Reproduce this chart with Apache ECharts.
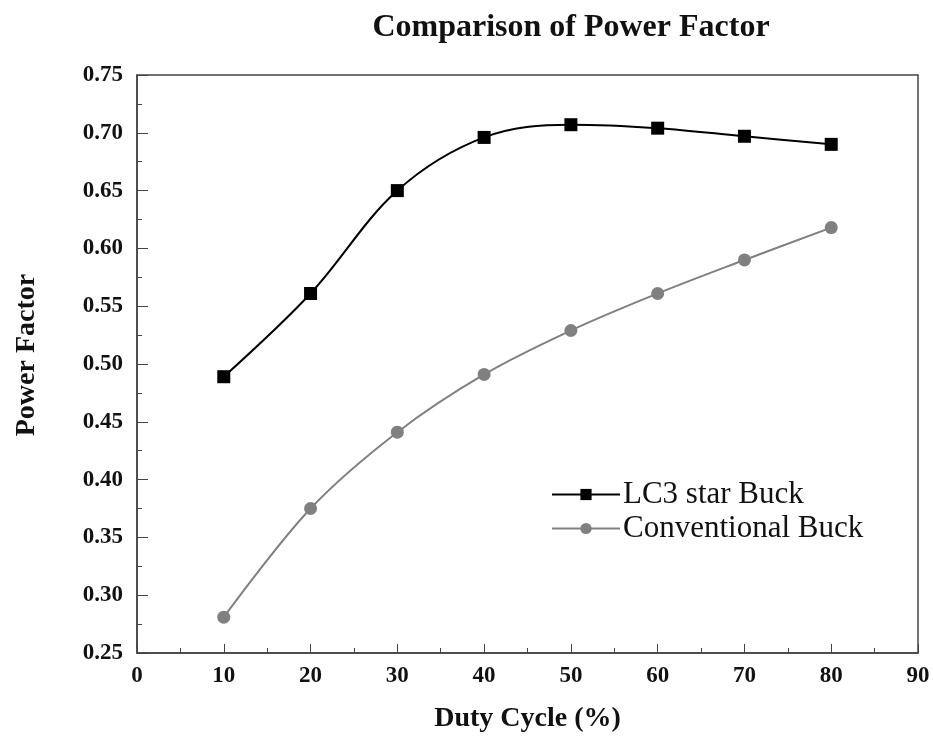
<!DOCTYPE html>
<html><head><meta charset="utf-8">
<script src="https://cdn.jsdelivr.net/npm/echarts@6/dist/echarts.min.js"></script>
<style>html,body{margin:0;padding:0;background:#fff}#c{width:933px;height:744px}</style>
</head><body><div id="c"></div>
<script>
const dutyCycle = [10, 20, 30, 40, 50, 60, 70, 80];
const lc3StarBuck = [0.489, 0.561, 0.650, 0.696, 0.707, 0.704, 0.697, 0.690];
const conventionalBuck = [0.281, 0.375, 0.441, 0.491, 0.529, 0.561, 0.590, 0.618];
const seriesNames = ['LC3 star Buck', 'Conventional Buck'];

const chart = echarts.init(document.getElementById('c'));
const font = '"Liberation Serif", "Times New Roman", serif';
chart.setOption({
  animation: false,
  title: {
    text: 'Comparison of Power Factor', left: 566, top: 7, textAlign: 'center',
    textStyle: { fontFamily: font, fontWeight: 'bold', fontSize: 32, color: '#111' }
  },
  grid: { left: 137, right: 15, top: 75, bottom: 91, show: true, borderColor: '#444', borderWidth: 1.5 },
  legend: {
    orient: 'vertical', left: 546, top: 474, itemGap: 3, itemWidth: 68, itemHeight: 14,
    textStyle: { fontFamily: font, fontSize: 31, color: '#111', padding: [0, 0, 0, -2] },
    data: seriesNames
  },
  xAxis: {
    type: 'value', min: 0, max: 90, interval: 10,
    name: 'Duty Cycle (%)', nameLocation: 'middle', nameGap: 52,
    nameTextStyle: { fontFamily: font, fontWeight: 'bold', fontSize: 28, color: '#111' },
    axisLine: { lineStyle: { color: '#444', width: 1.5 } },
    axisTick: { inside: true, length: 9, lineStyle: { color: '#444' } },
    minorTick: { show: true, splitNumber: 2, length: 5, lineStyle: { color: '#444' } },
    axisLabel: { fontFamily: font, fontWeight: 'bold', fontSize: 23, color: '#111', margin: 12 },
    splitLine: { show: false }
  },
  yAxis: {
    type: 'value', min: 0.25, max: 0.75, interval: 0.05,
    name: 'Power Factor', nameLocation: 'middle', nameGap: 96,
    nameTextStyle: { fontFamily: font, fontWeight: 'bold', fontSize: 28, color: '#111', padding: [0, 0, 0, 18] },
    axisLine: { lineStyle: { color: '#444', width: 1.5 } },
    axisTick: { inside: true, length: 11, lineStyle: { color: '#444' } },
    minorTick: { show: true, splitNumber: 2, length: 5, lineStyle: { color: '#444' } },
    axisLabel: { fontFamily: font, fontWeight: 'bold', fontSize: 23, color: '#111', margin: 14,
      formatter: v => v.toFixed(2) },
    splitLine: { show: false }
  },
  series: [
    {
      name: seriesNames[0], type: 'line', smooth: 0.35,
      data: dutyCycle.map((x, i) => [x, lc3StarBuck[i]]),
      symbol: 'rect', symbolSize: 13,
      lineStyle: { color: '#000', width: 2 }, itemStyle: { color: '#000' }
    },
    {
      name: seriesNames[1], type: 'line', smooth: 0.35,
      data: dutyCycle.map((x, i) => [x, conventionalBuck[i]]),
      symbol: 'circle', symbolSize: 13,
      lineStyle: { color: '#808080', width: 2 }, itemStyle: { color: '#808080' }
    }
  ]
});
</script></body></html>
